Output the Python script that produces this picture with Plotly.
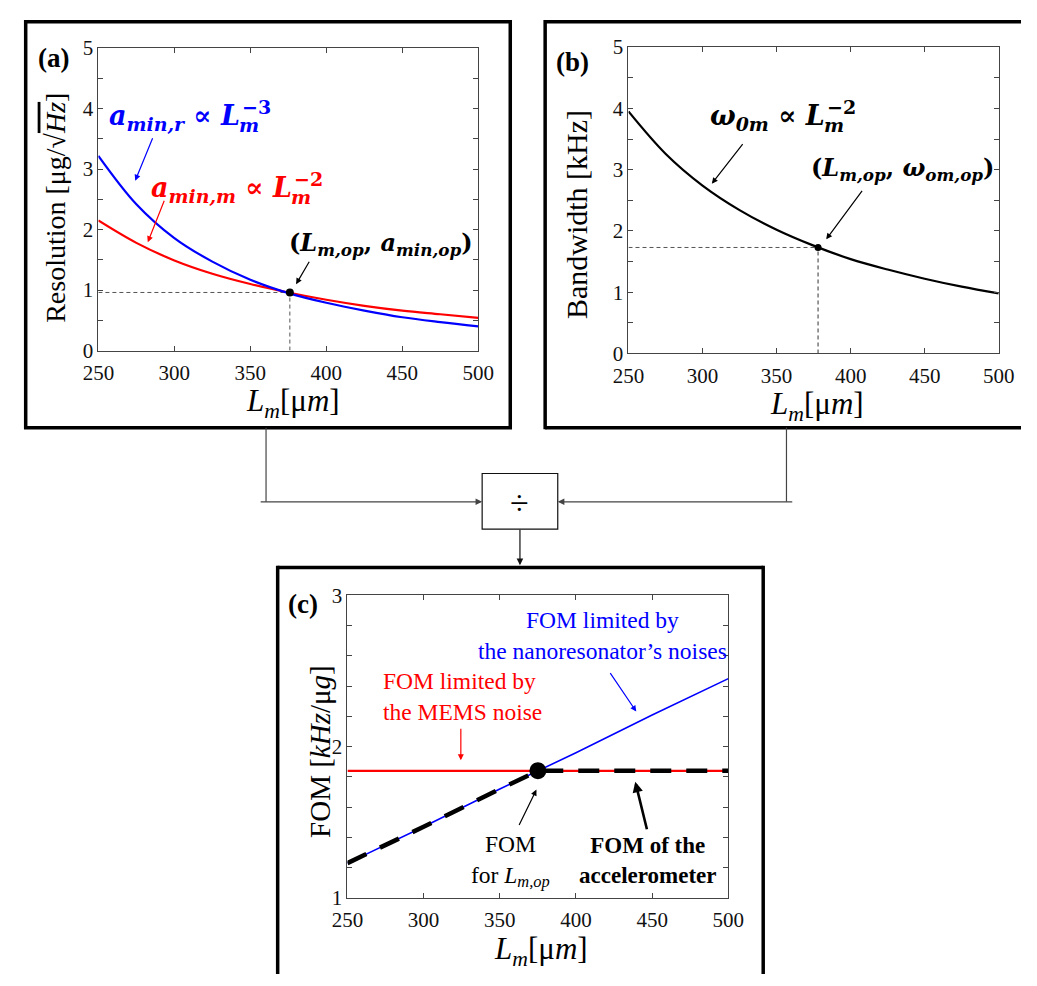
import plotly.graph_objects as go

# ---------------- data ----------------
L_um = [250, 275, 300, 325, 350, 375, 400, 425, 450, 475, 500]
res_nano = [3.22, 2.42, 1.86, 1.47, 1.17, 0.95, 0.79, 0.66, 0.55, 0.47, 0.40]   # a_min,r  (blue)
res_mems = [2.15, 1.78, 1.49, 1.27, 1.10, 0.96, 0.84, 0.74, 0.66, 0.60, 0.54]   # a_min,m  (red)
bandwidth = [3.95, 3.26, 2.74, 2.34, 2.02, 1.76, 1.54, 1.37, 1.22, 1.09, 0.98]  # kHz

fom_L = [250, 300, 350, 400, 450, 500]
fom_nano = [1.23, 1.47, 1.72, 1.96, 2.21, 2.45]
fom_mems = [1.84, 1.84, 1.84, 1.84, 1.84, 1.84]
acc_L = [250, 300, 350, 375, 400, 450, 500]
fom_acc = [1.23, 1.47, 1.72, 1.84, 1.84, 1.84, 1.84]

op_a = (376, 0.96)
op_b = (378, 1.73)
op_c = (375, 1.84)

x_ticks = [250, 300, 350, 400, 450, 500]

W, H = 1037, 986
BLUE, RED, BLACK = "#0000FF", "#FF0000", "#000000"
SERIF = "Liberation Serif, Times New Roman, serif"
MATH = "DejaVu Serif, serif"


def px(x):
    return x / W


def py(y):
    return 1 - y / H


fig = go.Figure()

# panel (a)
fig.add_trace(go.Scatter(x=[L_um[0], op_a[0]], y=[op_a[1], op_a[1]], mode="lines",
                         line=dict(color="#555555", width=1, dash="4px,3px"), xaxis="x", yaxis="y"))
fig.add_trace(go.Scatter(x=[op_a[0], op_a[0]], y=[0, op_a[1]], mode="lines",
                         line=dict(color="#555555", width=1, dash="4px,3px"), xaxis="x", yaxis="y"))
fig.add_trace(go.Scatter(x=L_um, y=res_mems, mode="lines", line=dict(color=RED, width=2.2, shape="spline"),
                         xaxis="x", yaxis="y"))
fig.add_trace(go.Scatter(x=L_um, y=res_nano, mode="lines", line=dict(color=BLUE, width=2.2, shape="spline"),
                         xaxis="x", yaxis="y"))
fig.add_trace(go.Scatter(x=[op_a[0]], y=[op_a[1]], mode="markers", marker=dict(color=BLACK, size=8),
                         xaxis="x", yaxis="y"))

# panel (b)
fig.add_trace(go.Scatter(x=[L_um[0], op_b[0]], y=[op_b[1], op_b[1]], mode="lines",
                         line=dict(color="#555555", width=1, dash="4px,3px"), xaxis="x2", yaxis="y2"))
fig.add_trace(go.Scatter(x=[op_b[0], op_b[0]], y=[0, op_b[1]], mode="lines",
                         line=dict(color="#333333", width=1, dash="4px,3px"), xaxis="x2", yaxis="y2"))
fig.add_trace(go.Scatter(x=L_um, y=bandwidth, mode="lines", line=dict(color=BLACK, width=2.2, shape="spline"),
                         xaxis="x2", yaxis="y2"))
fig.add_trace(go.Scatter(x=[op_b[0]], y=[op_b[1]], mode="markers", marker=dict(color=BLACK, size=7),
                         xaxis="x2", yaxis="y2"))

# panel (c)
fig.add_trace(go.Scatter(x=fom_L, y=fom_mems, mode="lines", line=dict(color=RED, width=2.2),
                         xaxis="x3", yaxis="y3"))
fig.add_trace(go.Scatter(x=fom_L, y=fom_nano, mode="lines", line=dict(color=BLUE, width=1.6),
                         xaxis="x3", yaxis="y3"))
fig.add_trace(go.Scatter(x=acc_L, y=fom_acc, mode="lines", line=dict(color=BLACK, width=4.5, dash="21px,15px"),
                         xaxis="x3", yaxis="y3", cliponaxis=False))
fig.add_trace(go.Scatter(x=[op_c[0]], y=[op_c[1]], mode="markers", marker=dict(color=BLACK, size=17),
                         xaxis="x3", yaxis="y3", cliponaxis=False))

tickfont = dict(family=SERIF, size=21, color="#111111")
common = dict(showline=True, linecolor="#444444", linewidth=1, mirror="ticks", ticks="inside",
              ticklen=5, tickcolor="#444444", showgrid=False, zeroline=False, tickfont=tickfont)

layout_axes = dict(
    xaxis=dict(domain=[px(85), px(477)], range=[250, 500], tickvals=x_ticks, anchor="y",
               ticklabelstandoff=3, **common),
    yaxis=dict(domain=[py(347), py(37)], range=[0, 5], dtick=1, anchor="x",
               minor=dict(dtick=0.5, ticks="inside", ticklen=5, tickcolor="#444444"), **common),
    xaxis2=dict(domain=[px(632), px(1014)], range=[250, 500], tickvals=x_ticks, anchor="y2",
                ticklabelstandoff=3, **common),
    yaxis2=dict(domain=[py(350), py(36)], range=[0, 5], dtick=1, anchor="x2",
                minor=dict(dtick=0.5, ticks="inside", ticklen=5, tickcolor="#444444"), **common),
    xaxis3=dict(domain=[px(342), px(735)], range=[250, 500], tickvals=x_ticks, anchor="y3",
                ticklabelstandoff=3, **common),
    yaxis3=dict(domain=[py(908), py(598)], range=[1, 3], dtick=1, anchor="x3",
                minor=dict(dtick=0.2, ticks="inside", ticklen=5, tickcolor="#444444"), **common),
)

shapes = []


def seg(x0, y0, x1, y1, color="#000000", width=3.5):
    shapes.append(dict(type="line", xref="paper", yref="paper", x0=px(x0), x1=px(x1), y0=py(y0), y1=py(y1),
                       line=dict(color=color, width=width)))


# thick panel frames (panel b runs off the right edge, panel c off the bottom edge)
shapes.append(dict(type="rect", xref="paper", yref="paper", x0=px(10), x1=px(510), y0=py(426), y1=py(10),
                   line=dict(color="#000000", width=3.5)))
seg(546, 10, 1037, 10)
seg(546, 8.3, 546, 427.7)
seg(546, 426, 1037, 426)
seg(270, 569.3, 771, 569.3)
seg(270, 567.6, 270, 986)
seg(771, 567.6, 771, 986)
# divide box
shapes.append(dict(type="rect", xref="paper", yref="paper", x0=px(481), x1=px(559), y0=py(530), y1=py(473),
                   line=dict(color="#111111", width=1.2)))
# connectors
seg(258, 426, 258, 502, color="#444444", width=1.2)
seg(795, 426, 795, 502, color="#444444", width=1.2)

ann = []


def text(x, y, s, size=22, color=BLACK, angle=0, xanchor="center", align="center", family=SERIF):
    ann.append(dict(xref="paper", yref="paper", x=px(x), y=py(y), text=s, showarrow=False,
                    font=dict(family=family, size=size, color=color), textangle=angle,
                    xanchor=xanchor, yanchor="middle", align=align))


def arrow(tx, ty, hx, hy, color=BLACK, width=1.2, size=1.0, head=2):
    ann.append(dict(xref="paper", yref="paper", x=px(hx), y=py(hy), ax=tx - hx, ay=ty - hy,
                    axref="pixel", ayref="pixel", text="", showarrow=True, arrowhead=head,
                    arrowsize=size, arrowwidth=width, arrowcolor=color))


def power_label(lhs, l_end, y, exponent, color):
    """'lhs ∝ L' ending at x=l_end, with subscript m and superscript exponent stacked after it."""
    text(l_end, y, "<b>" + lhs + " ∝ <i>L</i></b>", size=27, color=color, xanchor="right", family=MATH)
    text(l_end - 5, y + 8, "<b><i>m</i></b>", size=19, color=color, xanchor="left", family=MATH)
    text(l_end - 2, y - 11, "<b>" + exponent + "</b>", size=19, color=color, xanchor="left", family=MATH)


# connector arrows
arrow(258, 502, 481, 502, color="#444444", width=1.2, size=1.1)
arrow(795, 502, 559, 502, color="#444444", width=1.2, size=1.1)
arrow(520, 530, 520, 567, color="#111111", width=1.2, size=1.1)
text(520, 503, "÷", size=34)

# panel labels
text(39, 47, "<b>(a)</b>", size=27)
text(574, 51, "<b>(b)</b>", size=27)
text(296, 607, "<b>(c)</b>", size=27)

# axis titles
xt = "<i>L<sub>m</sub></i>[μ<i>m</i>]"
text(286, 401, xt, size=31)
text(826, 404, xt, size=31)
text(542, 962, xt, size=31)
text(40, 201, "Resolution [μg/√<span style='text-decoration:overline'><i>Hz</i></span>]", size=28, angle=-90)
text(579, 208, "Bandwidth [kHz]", size=30, angle=-90)
text(313, 758, "FOM [<i>kHz</i>/μ<i>g</i>]", size=29, angle=-90)

# panel (a) annotations
power_label("<i>a<sub>min,r</sub></i>", 233, 108, "−3", BLUE)
arrow(141, 129, 123, 173, color=BLUE, width=1.2)
power_label("<i>a<sub>min,m</sub></i>", 287, 182, "−2", RED)
arrow(153, 193, 136, 236, color=RED, width=1.2)
text(280, 238, "<b>(<i>L<sub>m,op</sub></i>, <i>a<sub>min,op</sub></i>)</b>", size=24, xanchor="left", family=MATH)
arrow(303, 255, 289, 279, width=1.2)

# panel (b) annotations
power_label("<i>ω<sub>0m</sub></i>", 837, 108, "−2", BLACK)
arrow(750, 135, 718, 176, width=1.2)
text(818, 161, "<b>(<i>L<sub>m,op</sub></i>, <i>ω<sub>om,op</sub></i>)</b>", size=24, xanchor="left", family=MATH)
arrow(873, 183, 836, 233, width=1.2)

# panel (c) annotations
text(605, 639, "FOM limited by<br>the nanoresonator’s noises", size=23.5, color=BLUE)
arrow(613, 677, 640, 717, color=BLUE, width=1.2)
text(377, 702, "FOM limited by<br>the MEMS noise", size=23.5, color=RED, xanchor="left", align="left")
arrow(459, 734, 459, 767, color=RED, width=1.2)
text(510, 870, "FOM<br>for <i>L<sub>m,op</sub></i>", size=23.5)
arrow(519, 834, 537, 797, width=1.2)
text(652, 870, "<b>FOM of the<br>accelerometer</b>", size=23)
arrow(651, 838, 639, 789, width=2.6, size=0.8)

fig.update_layout(width=W, height=H, margin=dict(l=0, r=0, t=0, b=0), paper_bgcolor="white",
                  plot_bgcolor="white", showlegend=False, shapes=shapes, annotations=ann, **layout_axes)

fig.write_html("out.html", config={"displayModeBar": False},
               post_script="document.body.style.margin='0';document.body.style.overflow='hidden';")
